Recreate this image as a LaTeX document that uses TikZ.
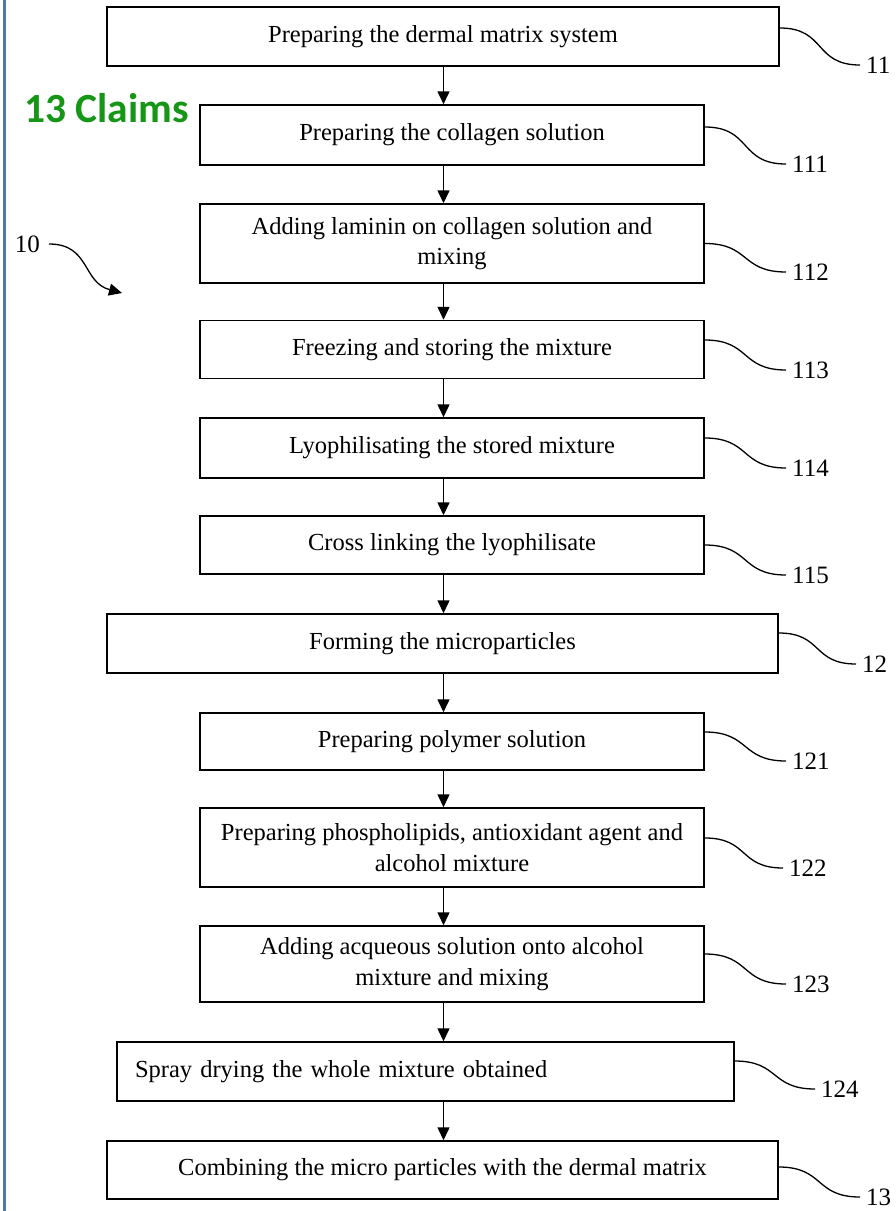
\documentclass[tikz,border=0pt]{standalone}
\usepackage{fontspec}
\setmainfont{Liberation Serif}
\newfontfamily\claimfont{Carlito}
\usetikzlibrary{arrows.meta}
\definecolor{claimgreen}{RGB}{22,150,22}
\definecolor{edgeblue}{RGB}{80,120,170}
\tikzset{
  stepbox/.style={draw, line width=1.5pt, minimum height=59pt, align=center,
    inner sep=0pt, font=\fontsize{24.5}{30.5}\selectfont},
  refnum/.style={anchor=west, inner xsep=6pt, inner ysep=0pt,
    font=\fontsize{25}{30}\selectfont},
  flow/.style={-{Triangle[length=13pt,width=12pt]}, line width=1.5pt},
  leader/.style={line width=1.3pt, out=0, in=180, looseness=1.35},
}
\begin{document}
\begin{tikzpicture}[x=1pt,y=-1pt]
      \useasboundingbox (0,0) rectangle (895,1211);
      \draw[edgeblue, line width=3pt] (4.5,0) -- (4.5,1211);
      \node[anchor=base west, inner sep=0pt, text=claimgreen,
        font=\claimfont\bfseries\fontsize{41.5}{44}\selectfont] (claims) at (24,122) {13 Claims};
      \coordinate (spine) at (443.5,0);
      \draw
        (443,36.5) node[stepbox, minimum width=672pt] (11) {Preparing the dermal matrix system}
        (452,135) node[stepbox, minimum width=504pt, minimum height=60pt] (111) {Preparing the collagen solution}
        (452,243.5) node[stepbox, minimum width=504pt, minimum height=79pt] (112) {Adding laminin on collagen solution and\\ mixing}
        (452,349.5) node[stepbox, minimum width=504pt, minimum height=58pt] (113) {Freezing and storing the mixture}
        (452,448) node[stepbox, minimum width=504pt, minimum height=60pt] (114) {Lyophilisating the stored mixture}
        (452,545) node[stepbox, minimum width=504pt, minimum height=58pt] (115) {Cross linking the lyophilisate}
        (442.5,643.5) node[stepbox, minimum width=671pt] (12) {Forming the microparticles}
        (452,741.5) node[stepbox, minimum width=504pt, minimum height=57pt] (121) {Preparing polymer solution}
        (452,847.5) node[stepbox, minimum width=504pt, minimum height=79pt] (122) {Preparing phospholipids, antioxidant agent and\\ alcohol mixture}
        (452,964) node[stepbox, minimum width=504pt, minimum height=76pt] (123) {Adding acqueous solution onto alcohol\\ mixture and mixing}
        (425.5,1071.5) node[stepbox, text width=581pt, inner xsep=18pt, align=left] (124) {Spray drying the whole mixture obtained}
        (442.5,1170) node[stepbox, minimum width=671pt, minimum height=58pt] (13) {Combining the micro particles with the dermal matrix};
      \draw
        (860,65) node[refnum] (r11) {11}
        (786,164) node[refnum] (r111) {111}
        (786,272) node[refnum] (r112) {112}
        (786,370) node[refnum] (r113) {113}
        (786,468) node[refnum] (r114) {114}
        (786,575) node[refnum] (r115) {115}
        (856,664) node[refnum] (r12) {12}
        (786,761) node[refnum] (r121) {121}
        (783,868) node[refnum] (r122) {122}
        (786,984) node[refnum] (r123) {123}
        (815,1089) node[refnum] (r124) {124}
        (860,1197) node[refnum] (r13) {13}
        (40,244) node[refnum, anchor=east, inner xsep=0pt] (r10) {10};
      \coordinate (tip10) at (122,293);
      \begin{scope}[flow]
        \draw (11.south -| spine) -- (111.north -| spine);
        \draw (111.south -| spine) -- (112.north -| spine);
        \draw (112.south -| spine) -- (113.north -| spine);
        \draw (113.south -| spine) -- (114.north -| spine);
        \draw (114.south -| spine) -- (115.north -| spine);
        \draw (115.south -| spine) -- (12.north -| spine);
        \draw (12.south -| spine) -- (121.north -| spine);
        \draw (121.south -| spine) -- (122.north -| spine);
        \draw (122.south -| spine) -- (123.north -| spine);
        \draw (123.south -| spine) -- (124.north -| spine);
        \draw (124.south -| spine) -- (13.north -| spine);
        \draw[line width=1.3pt] ([xshift=9pt]r10.east) to[out=0, in=165, looseness=1.2] (tip10);
      \end{scope}
      \begin{scope}[leader]
        \draw ([yshift=8.5pt]11.east) to (r11.west);
        \draw ([yshift=8pt]111.east) to (r111.west);
        \draw (112.east) to (r112.west);
        \draw ([yshift=9.5pt]113.east) to (r113.west);
        \draw ([yshift=10pt]114.east) to (r114.west);
        \draw (115.east) to (r115.west);
        \draw ([yshift=10.5pt]12.east) to (r12.west);
        \draw ([yshift=9.5pt]121.east) to (r121.west);
        \draw ([yshift=9.5pt]122.east) to (r122.west);
        \draw ([yshift=10pt]123.east) to (r123.west);
        \draw ([yshift=10.5pt]124.east) to (r124.west);
        \draw ([yshift=3pt]13.east) to (r13.west);
      \end{scope}
    \end{tikzpicture}
\end{document}
